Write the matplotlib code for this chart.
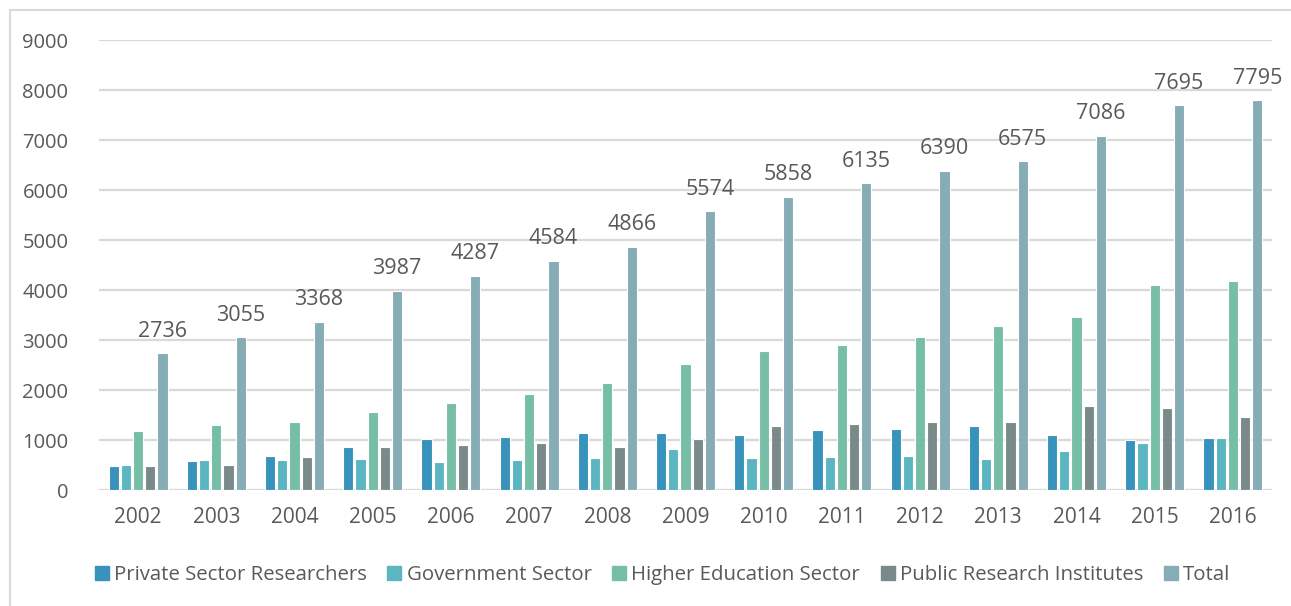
import matplotlib
matplotlib.use("Agg")
import matplotlib.pyplot as plt
from matplotlib.lines import Line2D
import numpy as np

plt.rcParams['font.family'] = ['Open Sans', 'DejaVu Sans']

years = [str(y) for y in range(2002, 2017)]
series_names = ["Private Sector Researchers", "Government Sector",
                "Higher Education Sector", "Public Research Institutes", "Total"]

private_sector = [480, 590, 690, 870, 1020, 1070, 1150, 1150, 1100, 1200,
                  1230, 1280, 1100, 1000, 1050]
government = [510, 610, 610, 630, 560, 610, 640, 820, 640, 660,
              690, 620, 790, 950, 1050]
higher_education = [1180, 1300, 1360, 1560, 1740, 1920, 2150, 2530, 2790, 2900,
                    3070, 3280, 3460, 4100, 4180]
public_institutes = [480, 510, 660, 870, 900, 940, 870, 1020, 1280, 1330,
                     1360, 1360, 1690, 1640, 1460]
total = [2736, 3055, 3368, 3987, 4287, 4584, 4866, 5574, 5858, 6135,
         6390, 6575, 7086, 7695, 7795]

colors = ["#3793BB", "#5BB6C1", "#77BEA6", "#7A8A8A", "#86ACB6"]
text_color = "#595959"

fig = plt.figure(figsize=(12.91, 6.06), dpi=100)
ax = fig.add_axes([99 / 1291, 1 - 490 / 606, (1272 - 99) / 1291, 450 / 606])

x = np.arange(len(years))
slot = 0.156
width = 0.128
all_series = [private_sector, government, higher_education, public_institutes, total]
for i, (vals, c) in enumerate(zip(all_series, colors)):
    ax.bar(x + (i - 2) * slot, vals, width=width, color=c,
           edgecolor="white", linewidth=0.8, zorder=3)

# value labels above the total bars
for xi, v in zip(x, total):
    ax.annotate(str(v), xy=(xi + 2 * slot, v), xytext=(0, 12),
                textcoords="offset points", ha="center", va="baseline",
                fontsize=15.5, color=text_color)

ax.set_xlim(-0.5, len(years) - 0.5)
ax.set_ylim(0, 9000)
ax.set_yticks(np.arange(0, 9001, 1000))
ax.set_xticks(x)
ax.set_xticklabels(years)
ax.tick_params(axis="both", length=0, labelsize=14.5, colors=text_color)
ax.tick_params(axis="x", labelsize=15, pad=12)
ax.tick_params(axis="y", pad=22)
ax.yaxis.grid(True, color="#D9D9D9", linewidth=1.6, zorder=0)
ax.set_axisbelow(True)
for s in ax.spines.values():
    s.set_visible(False)

handles = [Line2D([0], [0], marker="s", linestyle="none", markersize=9.5,
                  markerfacecolor=c, markeredgecolor=c) for c in colors]
fig.legend(handles, series_names, loc="center", bbox_to_anchor=(661 / 1291, 1 - 575 / 606),
           ncol=5, frameon=False, fontsize=14.7, handletextpad=0.1,
           columnspacing=0.85, handlelength=1.0, labelcolor=text_color)

# thin frame around the chart area
fig.add_artist(Line2D([10 / 1291, 10 / 1291, 1.0], [0.0, 1 - 10 / 606, 1 - 10 / 606],
                      transform=fig.transFigure, color="#D9D9D9", linewidth=1.5))

fig.savefig("out.png", dpi=100, facecolor="white")
